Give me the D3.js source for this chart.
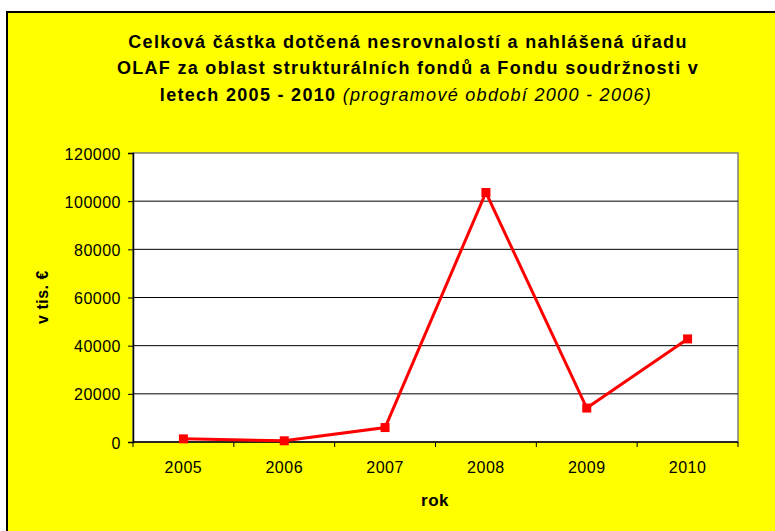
<!DOCTYPE html>
<html>
<head>
<meta charset="utf-8">
<script src="https://cdn.jsdelivr.net/npm/d3@7"></script>
<style>
  body { margin: 0; background: #fff; }
  text { font-family: "Liberation Sans", Arial, sans-serif; fill: #000; }
</style>
</head>
<body>
<script>
// chart data
var years = ["2005", "2006", "2007", "2008", "2009", "2010"];
var amounts = [1300, 500, 6000, 103600, 14100, 42800];
var yTicks = [0, 20000, 40000, 60000, 80000, 100000, 120000];

var svgWidth = 775;
var svgHeight = 531;

// plot area position
var margin = { top: 153, right: 37, bottom: 89, left: 133 };
var chartWidth = svgWidth - margin.left - margin.right;
var chartHeight = svgHeight - margin.top - margin.bottom;

var svg = d3.select("body")
  .append("svg")
  .attr("width", svgWidth)
  .attr("height", svgHeight);

// yellow chart background with black frame
svg.append("rect")
  .attr("x", 7)
  .attr("y", 12)
  .attr("width", 800)
  .attr("height", 560)
  .attr("fill", "#ffff00")
  .attr("stroke", "#000")
  .attr("stroke-width", 2);

// title
var title = svg.append("text")
  .attr("text-anchor", "middle")
  .attr("font-size", 18)
  .attr("font-weight", "bold")
  .attr("letter-spacing", 1.3);
title.append("tspan").attr("x", 408).attr("y", 47.5)
  .text("Celková částka dotčená nesrovnalostí a nahlášená úřadu");
title.append("tspan").attr("x", 408).attr("y", 74)
  .text("OLAF za oblast strukturálních fondů a Fondu soudržnosti v");
var line3 = title.append("tspan").attr("x", 406).attr("y", 101);
line3.append("tspan").text("letech 2005 - 2010 ");
line3.append("tspan").attr("font-weight", "normal").attr("font-style", "italic")
  .text("(programové období 2000 - 2006)");

var chartGroup = svg.append("g")
  .attr("transform", `translate(${margin.left}, ${margin.top})`);

// plot area
chartGroup.append("rect")
  .attr("width", chartWidth)
  .attr("height", chartHeight)
  .attr("fill", "#fff")
  .attr("stroke", "#808080")
  .attr("stroke-width", 1.5);

var xBandScale = d3.scaleBand()
  .domain(years)
  .range([0, chartWidth]);

var yLinearScale = d3.scaleLinear()
  .domain([0, 120000])
  .range([chartHeight, 0]);

// gridlines
chartGroup.selectAll(".grid")
  .data(yTicks.filter(d => d > 0 && d < 120000))
  .enter()
  .append("line")
  .attr("x1", 0)
  .attr("x2", chartWidth)
  .attr("y1", d => yLinearScale(d))
  .attr("y2", d => yLinearScale(d))
  .attr("stroke", "#000")
  .attr("stroke-width", 1);

// y axis
var leftAxis = d3.axisLeft(yLinearScale)
  .tickValues(yTicks)
  .tickFormat(d3.format("d"))
  .tickSize(5)
  .tickPadding(7);
var yAxis = chartGroup.append("g").call(leftAxis);
yAxis.select(".domain").attr("stroke", "#000").attr("stroke-width", 1.5);
yAxis.selectAll(".tick line").attr("stroke", "#000");
yAxis.selectAll("text")
  .attr("font-size", 16)
  .attr("letter-spacing", 0.5)
  .attr("dy", "0.38em")
  .attr("font-family", "Liberation Sans, Arial, sans-serif");

// x axis, ticks on band boundaries
var xAxis = chartGroup.append("g")
  .attr("transform", `translate(0, ${chartHeight})`);
xAxis.append("line")
  .attr("x1", 0)
  .attr("x2", chartWidth)
  .attr("stroke", "#000")
  .attr("stroke-width", 1.5);
var bounds = years.map(d => xBandScale(d)).concat([chartWidth]);
xAxis.selectAll(".xtick")
  .data(bounds)
  .enter()
  .append("line")
  .attr("x1", d => d)
  .attr("x2", d => d)
  .attr("y1", 0)
  .attr("y2", 5)
  .attr("stroke", "#000");
xAxis.selectAll(".xlabel")
  .data(years)
  .enter()
  .append("text")
  .attr("x", d => xBandScale(d) + xBandScale.bandwidth() / 2)
  .attr("y", 31)
  .attr("text-anchor", "middle")
  .attr("font-size", 16)
  .attr("letter-spacing", 0.5)
  .text(d => d);

// line series
var line = d3.line()
  .x((d, i) => xBandScale(years[i]) + xBandScale.bandwidth() / 2)
  .y(d => yLinearScale(d));

chartGroup.append("path")
  .datum(amounts)
  .attr("d", line)
  .attr("fill", "none")
  .attr("stroke", "#ff0000")
  .attr("stroke-width", 3);

chartGroup.selectAll(".marker")
  .data(amounts)
  .enter()
  .append("rect")
  .attr("x", (d, i) => xBandScale(years[i]) + xBandScale.bandwidth() / 2 - 4.5)
  .attr("y", d => yLinearScale(d) - 4.5)
  .attr("width", 9)
  .attr("height", 9)
  .attr("fill", "#ff0000");

// axis titles
svg.append("text")
  .attr("x", 435)
  .attr("y", 506)
  .attr("text-anchor", "middle")
  .attr("font-size", 17)
  .attr("font-weight", "bold")
  .attr("letter-spacing", 0.5)
  .text("rok");

svg.append("text")
  .attr("transform", "rotate(-90)")
  .attr("x", -297)
  .attr("y", 48)
  .attr("text-anchor", "middle")
  .attr("font-size", 16)
  .attr("font-weight", "bold")
  .attr("letter-spacing", 0.5)
  .text("v tis. €");
</script>
</body>
</html>
